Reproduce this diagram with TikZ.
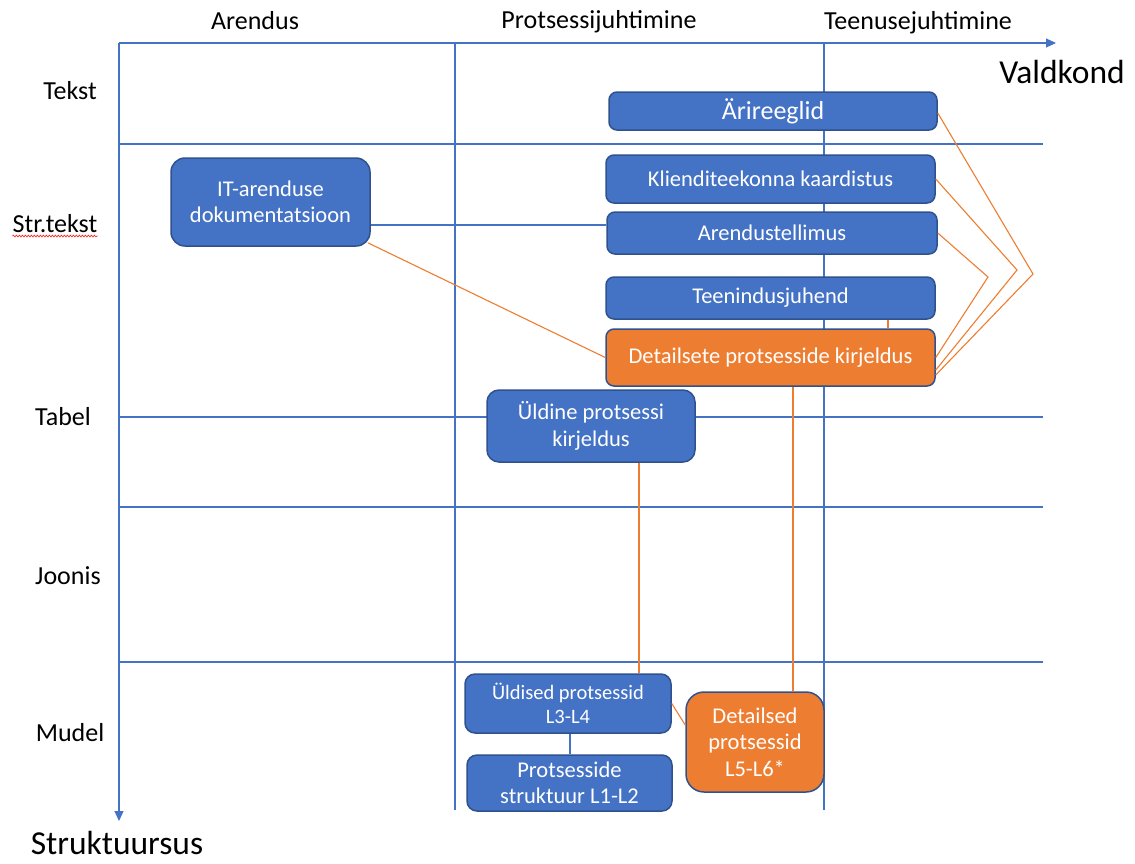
\documentclass[tikz,border=0pt]{standalone}
\usepackage{fontspec}
\setmainfont{Carlito}
\usetikzlibrary{arrows.meta,decorations.pathmorphing}
\definecolor{gridblue}{HTML}{4472C4}
\definecolor{boxblue}{HTML}{4472C4}
\definecolor{boxedge}{HTML}{2F528F}
\definecolor{accent}{HTML}{ED7D31}

\begin{document}
\begin{tikzpicture}[x=1pt,y=-1pt,
  gridline/.style={draw=gridblue, line width=1.1pt},
  axisline/.style={gridline, -{Triangle[length=10pt,width=9pt]}},
  box/.style={rectangle, rounded corners=#1, draw=boxedge, line width=1.5pt,
    fill=boxblue, text=white, align=center, inner sep=0pt,
    font=\fontsize{22.5}{26.5}\selectfont},
  box/.default=8pt,
  hot/.style={fill=accent},
  link/.style={draw=accent, line width=1.1pt},
  tie/.style={draw=gridblue, line width=1.1pt},
  lbl/.style={font=\fontsize{26}{30}\selectfont, anchor=base, inner sep=0pt},
  lblbig/.style={font=\fontsize{33.5}{38}\selectfont, anchor=base, inner sep=0pt},
]
\useasboundingbox (0,0) rectangle (1135,863);

% grid of domains (columns) and structure levels (rows)
\foreach \yy in {144,417,507,662} \draw[gridline] (119,\yy) -- (1043,\yy);
\foreach \xx in {455,824} \draw[gridline] (\xx,43) -- (\xx,810);
\draw[axisline] (119,43) -- (1056,43);
\draw[axisline] (119,43) -- (119,821);

% axis and column/row labels
\node[lbl] (cArendus) at (255,29) {Arendus};
\node[lbl] (cProts) at (599,28) {Protsessijuhtimine};
\node[lbl] (cTeenus) at (918,29) {Teenusejuhtimine};
\node[lblbig] (xname) at (1062,83) {Valdkond};
\node[lblbig] (yname) at (117,854) {Struktuursus};
\node[lbl] (rTekst) at (70,99) {Tekst};
\node[lbl] (rStr) at (55,232) {Str.tekst};
\node[lbl] (rTabel) at (63,425) {Tabel};
\node[lbl] (rJoonis) at (68,584) {Joonis};
\node[lbl] (rMudel) at (70,741) {Mudel};
\draw[red!85!white, line width=0.7pt, decorate,
  decoration={snake, amplitude=0.9pt, segment length=3pt}]
  ([yshift=-4pt]rStr.base west) -- ([yshift=-4pt]rStr.base east);

% documents
\node[box, minimum width=328pt, minimum height=38pt,
  font=\fontsize{26}{30}\selectfont] (arir) at (773,111) {Ärireeglid};
\node[box=14pt, minimum width=199pt, minimum height=88pt] (itdok) at (270.5,202)
  {IT-arenduse\\dokumentatsioon};
\node[box, minimum width=329pt, minimum height=48pt] (klient) at (770.5,179)
  {Klienditeekonna kaardistus};
\node[box, minimum width=330pt, minimum height=42pt] (arend) at (772,233)
  {Arendustellimus};
\node[box, minimum width=329pt, minimum height=42pt] (teenind) at (770.5,298)
  {Teenindusjuhend};
\node[box, hot, minimum width=329pt, minimum height=57pt] (detkirj) at (770.5,357.5)
  {Detailsete protsesside kirjeldus};
\node[box=12pt, minimum width=208pt, minimum height=72pt] (yldkirj) at (591,426)
  {Üldine protsessi\\kirjeldus};
\node[box=10pt, minimum width=206pt, minimum height=59pt,
  font=\fontsize{20.5}{24}\selectfont] (yldprot) at (568,703.5)
  {Üldised protsessid\\L3-L4};
\node[box=10pt, minimum width=205pt, minimum height=56pt] (strukt) at (569.5,783)
  {Protsesside\\struktuur L1-L2};
\node[box=18pt, hot, minimum width=138pt, minimum height=100pt] (detprot) at (755,742)
  {Detailsed\\protsessid\\L5-L6*};

% connectors
\draw[tie] ([yshift=-23pt]itdok.east) -- ([yshift=-23pt]itdok.east -| arend.west);
\draw[link] ([xshift=-3pt,yshift=4pt]itdok.south east) -- (detkirj.west);
\draw[link] ([xshift=117.5pt]teenind.south) -- ([xshift=117.5pt]detkirj.north);
\draw[link] ([xshift=48pt]yldkirj.south) -- ([xshift=48pt]yldkirj.south |- yldprot.north);
\draw[link] ([xshift=22.5pt]detkirj.south) -- ([xshift=22.5pt]detkirj.south |- detprot.north);
\draw[tie] ([xshift=2pt]yldprot.south) -- ([xshift=2pt]yldprot.south |- strukt.north);
\draw[link] (yldprot.east) -- ([yshift=17pt]detprot.west);

\coordinate (fanA) at (1033,274);
\coordinate (fanB) at (1017,270);
\coordinate (fanC) at (988,277);
\draw[link] ([yshift=-2pt]arir.east) -- (fanA) -- ([yshift=-17.5pt]detkirj.east);
\draw[link] (klient.east) -- (fanB) -- ([yshift=-12.5pt]detkirj.east);
\draw[link] (arend.east) -- (fanC) -- (detkirj.east);
\end{tikzpicture}
\end{document}
